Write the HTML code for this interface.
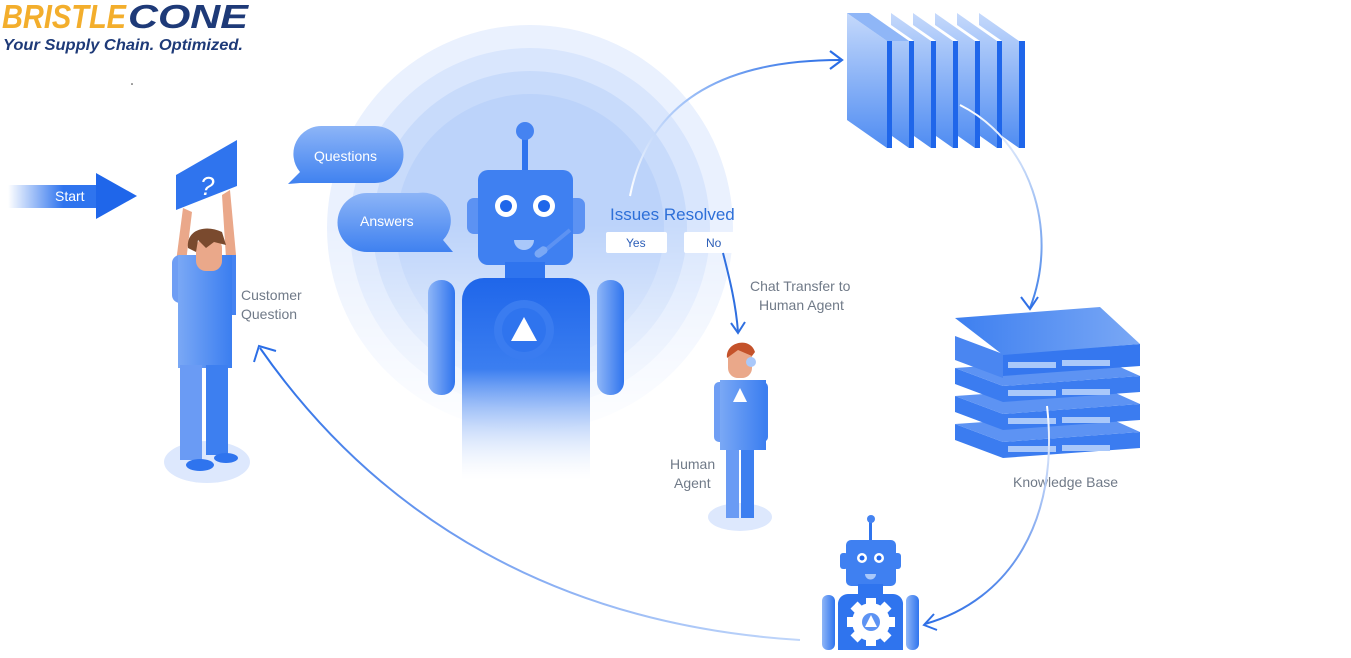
<!DOCTYPE html>
<html><head><meta charset="utf-8"><style>
html,body{margin:0;padding:0;background:#fff;width:1351px;height:658px;overflow:hidden}
svg{display:block}
text{font-family:"Liberation Sans",sans-serif}
</style></head><body>
<svg width="1351" height="658" viewBox="0 0 1351 658" xmlns="http://www.w3.org/2000/svg">
<defs>
<linearGradient id="fade" x1="0" y1="0" x2="0" y2="1"><stop offset="0" stop-color="#fff"/><stop offset="0.45" stop-color="#fff"/><stop offset="0.9" stop-color="#000"/></linearGradient>
<mask id="m1"><rect x="250" y="0" width="600" height="500" fill="url(#fade)"/></mask>
<linearGradient id="startG" x1="0" x2="1"><stop offset="0" stop-color="#2f74ee" stop-opacity="0"/><stop offset="0.6" stop-color="#2f74ee"/></linearGradient>
<linearGradient id="bodyG" x1="0" y1="0" x2="0" y2="1"><stop offset="0" stop-color="#1f66ea"/><stop offset="0.45" stop-color="#3b7ef0"/><stop offset="1" stop-color="#fff" stop-opacity="0.2"/></linearGradient>
<linearGradient id="armG" x1="0" x2="1"><stop offset="0" stop-color="#8fb6f7"/><stop offset="1" stop-color="#2f74ee"/></linearGradient>
<linearGradient id="bubG" x1="0" y1="0" x2="0" y2="1"><stop offset="0" stop-color="#8db5f7"/><stop offset="1" stop-color="#3f81f0"/></linearGradient>
<linearGradient id="slabG" x1="0" y1="0" x2="0" y2="1"><stop offset="0" stop-color="#c5d9fb"/><stop offset="1" stop-color="#4f8cf2"/></linearGradient>
<linearGradient id="personG" x1="0" x2="1"><stop offset="0" stop-color="#7aa8f5"/><stop offset="1" stop-color="#3b7ef0"/></linearGradient>
<linearGradient id="arcG1" x1="0" y1="1" x2="1" y2="0"><stop offset="0" stop-color="#fff"/><stop offset="0.5" stop-color="#9dbff7"/><stop offset="1" stop-color="#2b6ee6"/></linearGradient>
<linearGradient id="arcG2" x1="0" y1="0" x2="0" y2="1"><stop offset="0" stop-color="#fff"/><stop offset="1" stop-color="#3f7fe8"/></linearGradient>
<linearGradient id="arcG3" x1="0" y1="0" x2="0" y2="1"><stop offset="0" stop-color="#fff"/><stop offset="1" stop-color="#3070e6"/></linearGradient>
<linearGradient id="arcG4" x1="1" y1="1" x2="0" y2="0"><stop offset="0" stop-color="#c0d6fa"/><stop offset="0.5" stop-color="#6f9cf0"/><stop offset="1" stop-color="#2b6ee6"/></linearGradient>
<linearGradient id="kbTop" x1="0" x2="1"><stop offset="0" stop-color="#3d7ff0"/><stop offset="1" stop-color="#7aa8f5"/></linearGradient>
</defs>

<!-- glow rings -->
<g mask="url(#m1)">
<circle cx="530" cy="228" r="203" fill="#eaf1fe"/>
<circle cx="530" cy="228" r="180" fill="#d9e6fd"/>
<circle cx="530" cy="228" r="157" fill="#c8dbfb"/>
<circle cx="530" cy="228" r="134" fill="#bcd3fa"/>
</g>

<!-- logo -->
<text x="2" y="28" font-size="33" font-weight="bold" font-style="italic" fill="#f3ae2c" textLength="124" lengthAdjust="spacingAndGlyphs">BRISTLE</text>
<text x="128" y="28" font-size="33" font-weight="bold" font-style="italic" fill="#1e3a78" textLength="120" lengthAdjust="spacingAndGlyphs">CONE</text>
<text x="3" y="50" font-size="15.5" font-weight="bold" font-style="italic" fill="#1e3a78" textLength="240" lengthAdjust="spacingAndGlyphs">Your Supply Chain. Optimized.</text>

<!-- start arrow -->
<rect x="8" y="185" width="92" height="23" fill="url(#startG)"/>
<polygon points="96,173 137,196 96,219" fill="#1f66ea"/>
<text x="55" y="201" font-size="14" fill="#fff">Start</text>

<!-- customer -->
<ellipse cx="207" cy="462" rx="43" ry="21" fill="#dde8fd"/>
<polygon points="176,175 237,140 237,186 176,210" fill="#2f74ee"/>
<text x="200" y="195" font-size="26" fill="#fff" font-style="italic">?</text>
<path d="M183,208 L176,262 L186,262 L192,212 Z" fill="#eaa88a"/>
<path d="M230,190 L236,255 L226,258 L222,195 Z" fill="#eaa88a"/>
<rect x="172" y="255" width="20" height="48" rx="8" fill="#6f9ef4"/>
<rect x="222" y="255" width="14" height="60" fill="#4583f1"/>
<path d="M178,255 L232,255 L232,368 L178,368 Z" fill="url(#personG)"/>
<rect x="180" y="365" width="22" height="95" fill="#6a9bf4"/>
<rect x="206" y="365" width="22" height="90" fill="#3d7ff0"/>
<ellipse cx="200" cy="465" rx="14" ry="6" fill="#2f74ee"/>
<ellipse cx="226" cy="458" rx="12" ry="5" fill="#2f74ee"/>
<rect x="196" y="238" width="26" height="33" rx="10" fill="#eaa88a"/>
<path d="M188,248 C186,230 205,224 222,232 L226,245 L214,242 L206,248 L198,240 L196,252 Z" fill="#7a4a2e"/>
<text x="241" y="300" font-size="14" fill="#707a88">Customer</text>
<text x="241" y="319" font-size="14" fill="#707a88">Question</text>

<!-- bubbles -->
<path d="M323,126 H375 A28,28 0 0 1 375,183 H300 L288,184 L300,172 A28,28 0 0 1 323,126 Z" fill="url(#bubG)"/>
<text x="314" y="161" font-size="14" fill="#fff">Questions</text>
<path d="M367,193 H418 A28,28 0 0 1 443,240 L453,252 H367 A29,29 0 0 1 367,193 Z" fill="url(#bubG)"/>
<text x="360" y="226" font-size="14" fill="#fff">Answers</text>

<!-- main robot -->
<rect x="522" y="134" width="6" height="38" fill="#2f74ee"/>
<circle cx="525" cy="131" r="9" fill="#4583f1"/>
<rect x="467" y="198" width="17" height="36" rx="7" fill="#5c92f3"/>
<rect x="567" y="198" width="18" height="36" rx="7" fill="#5c92f3"/>
<rect x="478" y="170" width="95" height="95" rx="10" fill="#3f80f1"/>
<circle cx="506" cy="206" r="11" fill="#fff"/><circle cx="506" cy="206" r="6" fill="#1f66ea"/>
<circle cx="544" cy="206" r="11" fill="#fff"/><circle cx="544" cy="206" r="6" fill="#1f66ea"/>
<path d="M514,240 H534 A10,10 0 0 1 514,240 Z" fill="#a9c8fa"/>
<path d="M570,230 L542,253" stroke="#5c92f3" stroke-width="4"/>
<rect x="534" y="248" width="14" height="8" rx="4" fill="#7aa8f5" transform="rotate(-35 541 252)"/>
<rect x="505" y="262" width="40" height="20" fill="#2f74ee"/>
<path d="M462,300 A22,22 0 0 1 484,278 H568 A22,22 0 0 1 590,300 V480 H462 Z" fill="url(#bodyG)"/>
<circle cx="524" cy="330" r="30" fill="#3a7cf0"/>
<circle cx="524" cy="330" r="22" fill="#2f74ee"/>
<polygon points="524,317 537,341 511,341" fill="#fff"/>
<rect x="428" y="280" width="27" height="115" rx="13" fill="url(#armG)"/>
<rect x="597" y="280" width="27" height="115" rx="13" fill="url(#armG)"/>

<!-- issues resolved -->
<text x="610" y="220" font-size="17" fill="#2d6fd8">Issues Resolved</text>
<rect x="606" y="232" width="61" height="21" rx="2" fill="#fff"/>
<text x="626" y="247" font-size="12" fill="#2d5fb8">Yes</text>
<rect x="684" y="232" width="61" height="21" rx="2" fill="#fff"/>
<text x="706" y="247" font-size="12" fill="#2d5fb8">No</text>
<path d="M723,253 C730,280 736,305 738,332" stroke="#2f6fe0" stroke-width="2" fill="none"/>
<path d="M731,323 L738,333 L745,322" stroke="#2f6fe0" stroke-width="2" fill="none"/>
<text x="750" y="291" font-size="14" fill="#707a88">Chat Transfer to</text>
<text x="759" y="310" font-size="14" fill="#707a88">Human Agent</text>
<text x="670" y="469" font-size="14" fill="#707a88">Human</text>
<text x="674" y="488" font-size="14" fill="#707a88">Agent</text>

<!-- human agent -->
<ellipse cx="740" cy="517" rx="32" ry="14" fill="#dde8fd"/>
<rect x="726" y="440" width="13" height="78" fill="#6a9bf4"/>
<rect x="741" y="440" width="13" height="78" fill="#3d7ff0"/>
<rect x="714" y="382" width="11" height="60" rx="5" fill="#6f9ef4"/>
<rect x="757" y="382" width="11" height="60" rx="5" fill="#3d7ff0"/>
<path d="M720,380 H766 V450 H720 Z" fill="url(#personG)"/>
<polygon points="740,388 747,402 733,402" fill="#fff"/>
<rect x="728" y="344" width="24" height="34" rx="10" fill="#eaa88a"/>
<path d="M727,358 C725,342 750,336 755,352 L752,356 L738,350 Z" fill="#c4522a"/>
<circle cx="751" cy="362" r="5" fill="#a9c8fa"/>

<!-- arc robot -> panels -->
<path d="M630,196 C645,120 700,60 840,60" stroke="url(#arcG1)" stroke-width="2" fill="none"/>
<path d="M830,51 L842,60 L830,69" stroke="#2b6ee6" stroke-width="2.2" fill="none"/>

<!-- panels -->
<g>
<polygon points="847,13 887,41 887,148 847,120" fill="url(#slabG)"/><rect x="887" y="41" width="5" height="107" fill="#1f66ea"/>
<polygon points="869,13 909,41 909,148 892,136 892,41 869,25" fill="url(#slabG)"/><rect x="909" y="41" width="5" height="107" fill="#1f66ea"/>
<polygon points="891,13 931,41 931,148 914,136 914,41 891,25" fill="url(#slabG)"/><rect x="931" y="41" width="5" height="107" fill="#1f66ea"/>
<polygon points="913,13 953,41 953,148 936,136 936,41 913,25" fill="url(#slabG)"/><rect x="953" y="41" width="5" height="107" fill="#1f66ea"/>
<polygon points="935,13 975,41 975,148 958,136 958,41 935,25" fill="url(#slabG)"/><rect x="975" y="41" width="5" height="107" fill="#1f66ea"/>
<polygon points="957,13 997,41 997,148 980,136 980,41 957,25" fill="url(#slabG)"/><rect x="997" y="41" width="5" height="107" fill="#1f66ea"/>
<polygon points="979,13 1019,41 1019,148 1002,136 1002,41 979,25" fill="url(#slabG)"/><rect x="1019" y="41" width="6" height="107" fill="#1f66ea"/>
<polygon points="847,13 869,13 909,41 887,41" fill="#8fb6f7"/>
</g>

<!-- arc panels -> KB -->
<path d="M960,105 C1030,140 1060,230 1030,308" stroke="url(#arcG2)" stroke-width="2" fill="none"/>
<path d="M1021,297 L1030,309 L1038,297" stroke="#3070e6" stroke-width="2" fill="none"/>

<!-- knowledge base -->
<g>
<polygon points="955,440 1003,458 1140,448 1140,432 1003,442 955,424" fill="#3b7cf0"/>
<polygon points="955,424 1100,414 1140,432 1003,442" fill="#5d93f3"/>
<rect x="1008" y="446" width="48" height="6" fill="#a9c8fa"/><rect x="1062" y="445" width="48" height="6" fill="#a9c8fa"/>
<polygon points="955,412 1003,430 1140,420 1140,404 1003,414 955,396" fill="#3b7cf0"/>
<polygon points="955,396 1100,386 1140,404 1003,414" fill="#5d93f3"/>
<rect x="1008" y="418" width="48" height="6" fill="#a9c8fa"/><rect x="1062" y="417" width="48" height="6" fill="#a9c8fa"/>
<polygon points="955,384 1003,402 1140,392 1140,376 1003,386 955,368" fill="#3b7cf0"/>
<polygon points="955,368 1100,358 1140,376 1003,386" fill="#5d93f3"/>
<rect x="1008" y="390" width="48" height="6" fill="#a9c8fa"/><rect x="1062" y="389" width="48" height="6" fill="#a9c8fa"/>
<polygon points="955,336 1003,354 1003,378 955,360" fill="#4a86f1"/>
<polygon points="1003,354 1140,344 1140,366 1003,376" fill="#3577ef"/>
<polygon points="955,318 1100,307 1140,344 1003,355" fill="url(#kbTop)"/>
<rect x="1008" y="362" width="48" height="6" fill="#a9c8fa"/><rect x="1062" y="360" width="48" height="6" fill="#a9c8fa"/>
</g>
<text x="1013" y="487" font-size="14" fill="#707a88">Knowledge Base</text>

<!-- arc KB -> bot -->
<path d="M1047,406 C1060,520 1010,600 925,624" stroke="url(#arcG3)" stroke-width="2" fill="none"/>
<path d="M934,614 L924,625 L937,630" stroke="#3070e6" stroke-width="2" fill="none"/>

<!-- bottom robot -->
<rect x="869" y="520" width="3" height="22" fill="#2f74ee"/>
<circle cx="871" cy="519" r="4" fill="#4583f1"/>
<rect x="840" y="553" width="8" height="16" rx="3" fill="#3f80f1"/>
<rect x="893" y="553" width="8" height="16" rx="3" fill="#3f80f1"/>
<rect x="846" y="540" width="50" height="46" rx="5" fill="#3f80f1"/>
<circle cx="862" cy="558" r="5" fill="#fff"/><circle cx="862" cy="558" r="2.5" fill="#1f66ea"/>
<circle cx="879" cy="558" r="5" fill="#fff"/><circle cx="879" cy="558" r="2.5" fill="#1f66ea"/>
<path d="M865,574 H876 A5.5,5.5 0 0 1 865,574 Z" fill="#a9c8fa"/>
<rect x="858" y="584" width="25" height="12" fill="#2f74ee"/>
<path d="M838,605 A10,10 0 0 1 848,594 H893 A10,10 0 0 1 903,605 V650 H838 Z" fill="#2f74ee"/>
<rect x="822" y="595" width="13" height="55" rx="6" fill="url(#armG)"/>
<rect x="906" y="595" width="13" height="55" rx="6" fill="url(#armG)"/>
<g fill="#fff">
<circle cx="871" cy="622" r="19"/>
<rect x="866" y="598" width="10" height="48"/>
<rect x="866" y="598" width="10" height="48" transform="rotate(45 871 622)"/>
<rect x="866" y="598" width="10" height="48" transform="rotate(90 871 622)"/>
<rect x="866" y="598" width="10" height="48" transform="rotate(135 871 622)"/>
</g>
<circle cx="871" cy="622" r="9" fill="#5d93f3"/>
<polygon points="871,615 877,627 865,627" fill="#fff"/>

<!-- big return arc -->
<path d="M800,640 C560,625 380,520 260,348" stroke="url(#arcG4)" stroke-width="2" fill="none"/>
<path d="M254,362 L259,346 L276,351" stroke="#2b6ee6" stroke-width="2" fill="none"/>
<circle cx="132" cy="84" r="0.8" fill="#333"/>
</svg>
</body></html>
